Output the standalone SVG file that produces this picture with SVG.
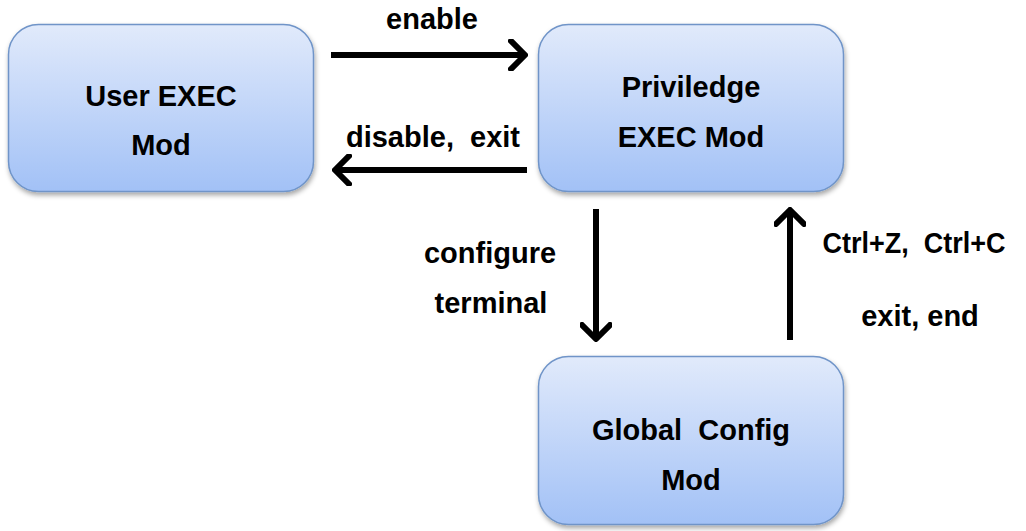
<svg xmlns="http://www.w3.org/2000/svg" width="1026" height="531" viewBox="0 0 1026 531">
  <defs>
    <linearGradient id="boxFill" x1="0" y1="0" x2="0" y2="1">
      <stop offset="0" stop-color="#e1eafb"/>
      <stop offset="1" stop-color="#a2c1f6"/>
    </linearGradient>
    <filter id="shadow" x="-10%" y="-10%" width="120%" height="130%">
      <feDropShadow dx="1" dy="3" stdDeviation="2.5" flood-color="#000" flood-opacity="0.35"/>
    </filter>
    <marker id="head" viewBox="0 0 20 32" refX="18" refY="16" markerWidth="20" markerHeight="32" markerUnits="userSpaceOnUse" orient="auto">
      <path d="M3,2 L17,16 L3,30" fill="none" stroke="#000" stroke-width="6" stroke-linecap="round" stroke-linejoin="round"/>
    </marker>
    <style>
      .box { fill: url(#boxFill); stroke: #6f94c8; stroke-width: 1.5; filter: url(#shadow); }
      .lbl { font-family: "Liberation Sans", Arial, sans-serif; font-weight: bold; font-size: 29px; fill: #000; text-anchor: middle; white-space: pre; }
      .edge { fill: none; stroke: #000; stroke-width: 6; marker-end: url(#head); }
    </style>
  </defs>
  <rect width="1026" height="531" fill="#fff"/>

  <g id="user-exec">
    <rect class="box" x="8.5" y="24.5" width="305" height="167" rx="30"/>
    <text class="lbl" x="161" y="106">User EXEC</text>
    <text class="lbl" x="161" y="155">Mod</text>
  </g>

  <g id="privileged-exec">
    <rect class="box" x="538.5" y="24.5" width="305" height="167" rx="30"/>
    <text class="lbl" x="691" y="97">Priviledge</text>
    <text class="lbl" x="691" y="147">EXEC Mod</text>
  </g>

  <g id="global-config">
    <rect class="box" x="538.5" y="356.5" width="305" height="168" rx="30"/>
    <text class="lbl" x="691" y="440" xml:space="preserve">Global  Config</text>
    <text class="lbl" x="691" y="490">Mod</text>
  </g>

  <g id="connectors">
    <line class="edge" x1="331" y1="55" x2="526" y2="55"/>
    <line class="edge" x1="527" y1="170" x2="334" y2="170"/>
    <line class="edge" x1="596" y1="209" x2="596" y2="340"/>
    <line class="edge" x1="790" y1="340" x2="790" y2="209"/>
    <text class="lbl" x="432" y="29">enable</text>
    <text class="lbl" x="433" y="147" xml:space="preserve">disable,  exit</text>
    <text class="lbl" x="490" y="263">configure</text>
    <text class="lbl" x="491" y="313">terminal</text>
    <text class="lbl" x="914" y="253" xml:space="preserve" textLength="183" lengthAdjust="spacingAndGlyphs">Ctrl+Z,  Ctrl+C</text>
    <text class="lbl" x="920" y="326">exit, end</text>
  </g>
</svg>
